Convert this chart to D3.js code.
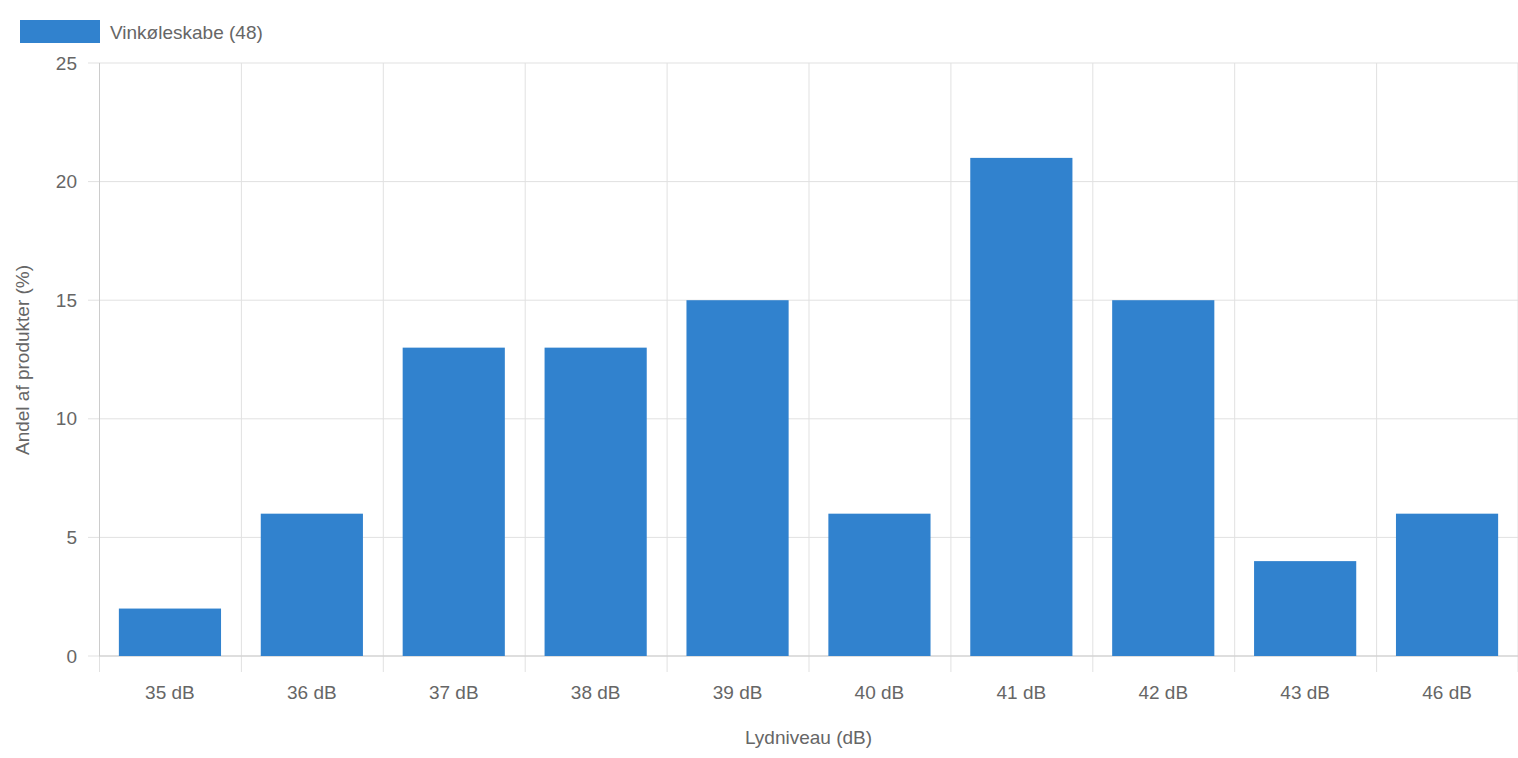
<!DOCTYPE html>
<html><head><meta charset="utf-8">
<script src="https://cdn.jsdelivr.net/npm/d3@7"></script>
<style>body{margin:0;background:#fff}text{font-family:"Liberation Sans",Arial,sans-serif;fill:#666}</style>
</head><body><svg id="c" width="1518" height="758"></svg>
<script>
const categories=["35 dB","36 dB","37 dB","38 dB","39 dB","40 dB","41 dB","42 dB","43 dB","46 dB"];
const values=[2,6,13,13,15,6,21,15,4,6];
const yTicks=[0,5,10,15,20,25];
const seriesName="Vinkøleskabe (48)";
const xTitle="Lydniveau (dB)", yTitle="Andel af produkter (%)";
const color="#3182CE", grid="#e1e1e1";
const svg=d3.select("#c");
const L=99,R=1518,T=63,B=656;
const x=d3.scaleBand().domain(categories).range([L,R]);
const y=d3.scaleLinear().domain([0,25]).range([B,T]);
// horizontal grid
svg.selectAll(".hg").data(yTicks).join("line").attr("x1",L-11).attr("x2",R).attr("y1",d=>y(d)).attr("y2",d=>y(d)).attr("stroke",grid);
// vertical grid
const vx=categories.map(c=>x(c)).concat([R-0.5]);
svg.selectAll(".vg").data(vx).join("line").attr("x1",d=>d+0.5).attr("x2",d=>d+0.5).attr("y1",T).attr("y2",B+16).attr("stroke",grid);
// axes lines
svg.append("line").attr("x1",L).attr("x2",R).attr("y1",B).attr("y2",B).attr("stroke","#ccc");
svg.append("line").attr("x1",L+0.5).attr("x2",L+0.5).attr("y1",T).attr("y2",B).attr("stroke","#ccc");
// bars
const bw=x.bandwidth()*0.72;
svg.selectAll(".b").data(values).join("rect").attr("x",(d,i)=>x(categories[i])+(x.bandwidth()-bw)/2).attr("width",bw).attr("y",d=>y(d)).attr("height",d=>B-y(d)).attr("fill",color);
// y labels
svg.selectAll(".yl").data(yTicks).join("text").attr("x",L-22).attr("y",d=>y(d)).attr("dy","0.35em").attr("text-anchor","end").attr("font-size",19).text(d=>d);
// x labels
svg.selectAll(".xl").data(categories).join("text").attr("x",d=>x(d)+x.bandwidth()/2).attr("y",699).attr("text-anchor","middle").attr("font-size",19).text(d=>d);
svg.append("text").attr("x",(L+R)/2).attr("y",744).attr("text-anchor","middle").attr("font-size",19).text(xTitle);
svg.append("text").attr("transform","translate(29,360) rotate(-90)").attr("text-anchor","middle").attr("font-size",19).text(yTitle);
// legend
svg.append("rect").attr("x",20).attr("y",20).attr("width",80).attr("height",23).attr("fill",color);
svg.append("text").attr("x",110).attr("y",39).attr("font-size",19).text(seriesName);
</script></body></html>
